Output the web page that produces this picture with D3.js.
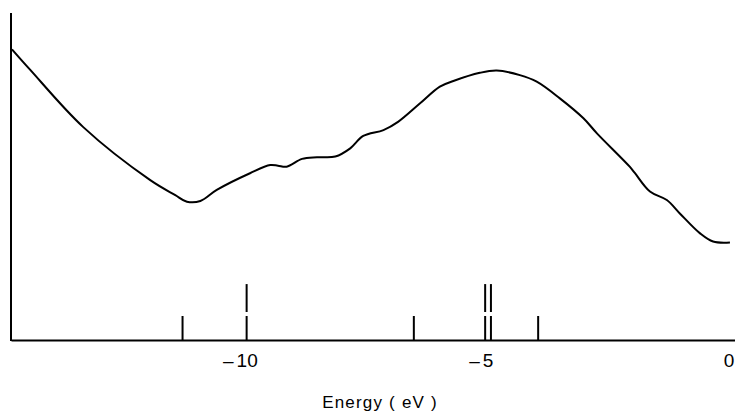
<!DOCTYPE html>
<html>
<head>
<meta charset="utf-8">
<script src="https://cdn.jsdelivr.net/npm/d3@7"></script>
<style>
  body { margin: 0; background: #fff; }
  svg { display: block; font-family: "Liberation Sans", Arial, sans-serif; }
</style>
</head>
<body>
<div id="vis"></div>
<script>
// spectrum curve (energy in eV, intensity in arbitrary units)
const energy = [-14.87, -14.49, -13.39, -12.00, -11.48, -11.24, -10.96, -10.62, -9.93, -9.51,
  -9.35, -9.17, -8.85, -8.54, -8.16, -7.85, -7.58, -7.16, -6.85, -6.40, -5.99, -5.71,
  -5.16, -4.81, -4.33, -3.98, -3.50, -3.01, -2.73, -2.05, -1.94, -1.63, -1.28, -1.01,
  -0.59, -0.32, 0.03];
const intensity = [88.9, 82.6, 65.1, 48.9, 44.3, 42.3, 42.5, 45.9, 51.0, 53.5,
  53.3, 53.0, 55.4, 55.9, 56.1, 58.6, 62.4, 64.2, 66.8, 72.4, 77.5, 79.2,
  81.7, 82.4, 81.0, 79.0, 73.9, 67.8, 63.2, 53.0, 51.0, 45.4, 42.8, 38.7,
  32.6, 30.1, 29.8];

// calculated levels (stick spectrum)
const stickEnergy = [-11.33, -10.0, -6.53, -5.05, -4.93, -3.95];
const stickHeight = [1, 2.33, 1, 2.33, 2.33, 1];

const tickValues = [-10, -5, 0];
const axisLabel = "Energy ( eV )";

const width = 735, height = 413;
const margin = { top: 13, bottom: 73, left: 11, right: 0 };
const baseY = height - margin.bottom;

let svg = d3.select("#vis")
  .append("svg")
  .attr("width", width)
  .attr("height", height);

let x = d3.scaleLinear()
  .domain([-14.89, 0.135])
  .range([margin.left, width - margin.right]);

let y = d3.scaleLinear()
  .domain([0, 100])
  .range([baseY, margin.top]);

// stick heights: one unit = short line
let yStick = d3.scaleLinear()
  .domain([0, 1])
  .range([baseY, baseY - 24]);

// frame: left axis + bottom axis
svg.append("line")
  .attr("x1", margin.left).attr("x2", margin.left)
  .attr("y1", y(100)).attr("y2", baseY + 1)
  .attr("stroke", "#000").attr("stroke-width", 2);

let xAxis = d3.axisBottom(x)
  .tickValues(tickValues)
  .tickSize(0)
  .tickPadding(0)
  .tickFormat(d => Math.abs(d));

let gx = svg.append("g")
  .attr("transform", `translate(0, ${baseY})`)
  .call(xAxis);

gx.select(".domain")
  .attr("stroke", "#000")
  .attr("stroke-width", 2);

gx.selectAll(".tick text")
  .attr("y", 27)
  .attr("dy", 0)
  .attr("fill", "#000")
  .style("font-size", "19px");

// hanging minus sign left of the digits
gx.selectAll(".tick")
  .filter(d => d < 0)
  .each(function() {
    let t = d3.select(this).select("text");
    let w = t.node().getComputedTextLength();
    d3.select(this).append("text")
      .attr("x", -w / 2 - 3)
      .attr("y", 27)
      .attr("text-anchor", "end")
      .attr("fill", "#000")
      .style("font-size", "19px")
      .text("\u2013");
  });

// sticks
let sticks = stickEnergy.map((e, i) => ({ e: e, h: stickHeight[i] }));

svg.selectAll("line.stick-low")
  .data(sticks)
  .join("line")
  .attr("class", "stick-low")
  .attr("x1", d => x(d.e)).attr("x2", d => x(d.e))
  .attr("y1", baseY)
  .attr("y2", yStick(1))
  .attr("stroke", "#000").attr("stroke-width", 2);

svg.selectAll("line.stick-high")
  .data(sticks.filter(d => d.h > 1))
  .join("line")
  .attr("class", "stick-high")
  .attr("x1", d => x(d.e)).attr("x2", d => x(d.e))
  .attr("y1", yStick(1) - 4)
  .attr("y2", d => yStick(d.h))
  .attr("stroke", "#000").attr("stroke-width", 2);

// curve
let line = d3.line()
  .x(d => x(d[0]))
  .y(d => y(d[1]))
  .curve(d3.curveCatmullRom.alpha(0.5));

svg.append("path")
  .datum(energy.map((e, i) => [e, intensity[i]]))
  .attr("d", line)
  .attr("fill", "none")
  .attr("stroke", "#000")
  .attr("stroke-width", 2)
  .attr("stroke-linejoin", "round");

svg.append("text")
  .attr("x", 380)
  .attr("y", 408)
  .attr("text-anchor", "middle")
  .attr("fill", "#000")
  .style("font-size", "17px")
  .style("letter-spacing", "1.2px")
  .text(axisLabel);
</script>
</body>
</html>
